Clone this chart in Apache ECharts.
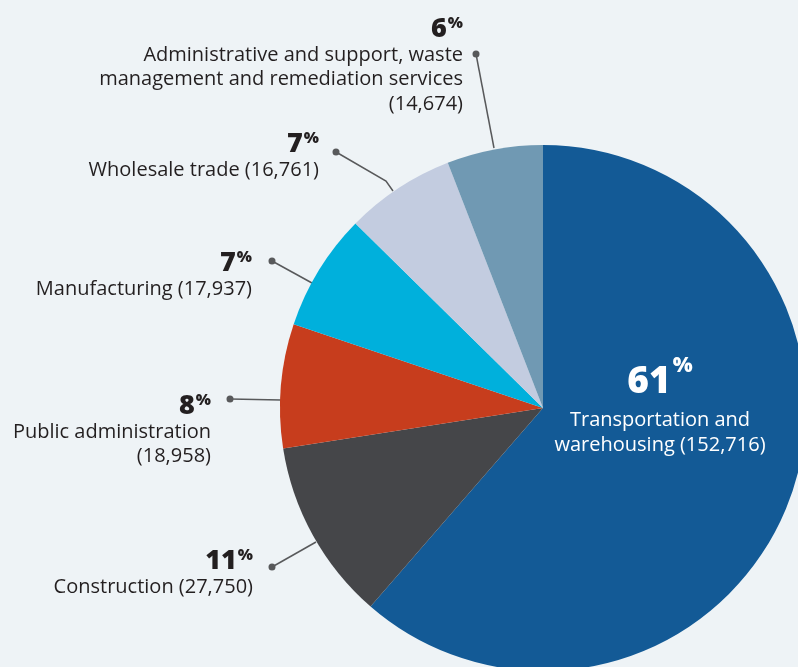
<!DOCTYPE html>
<html>
<head>
<meta charset="utf-8">
<script src="https://cdn.jsdelivr.net/npm/echarts@6/dist/echarts.min.js"></script>
<style>
  html, body { margin: 0; padding: 0; background: #eef3f6; }
  #main { width: 798px; height: 667px; }
</style>
</head>
<body>
<div id="main"></div>
<script>
const sectors = ['Transportation and warehousing', 'Construction', 'Public administration',
  'Manufacturing', 'Wholesale trade', 'Administrative and support, waste management and remediation services'];
const workers = [152716, 27750, 18958, 17937, 16761, 14674];
const percents = [61, 11, 8, 7, 7, 6];
// label text lines as drawn in the picture
const labelLines = [
  ['Transportation and', 'warehousing (152,716)'],
  ['Construction (27,750)'],
  ['Public administration', '(18,958)'],
  ['Manufacturing (17,937)'],
  ['Wholesale trade (16,761)'],
  ['Administrative and support, waste', 'management and remediation services', '(14,674)']
];
const colors = ['#135a96', '#454649', '#c73d1d', '#00b0dc', '#c3cce0', '#7099b3'];

// where the callout labels sit, and their leader lines (dot end first)
const layout = [
  { x: 660, y: 356, align: 'center' },
  { x: 253, y: 547, align: 'right', line: [[272, 567], [316, 542]] },
  { x: 211, y: 392, align: 'right', line: [[230, 399], [281, 400]] },
  { x: 252, y: 249, align: 'right', line: [[272, 261], [312, 283]] },
  { x: 319, y: 130, align: 'right', line: [[336, 152], [386, 181], [393, 191]] },
  { x: 463, y: 15, align: 'right', line: [[476, 54], [494, 148]] }
];

const FONT = 'Open Sans';
const chart = echarts.init(document.getElementById('main'));

const data = sectors.map((name, i) => ({
  name: name,
  value: workers[i],
  itemStyle: { color: colors[i] },
  label: i === 0 ? {
    position: 'inside',
    rich: {
      num: { fontSize: 37, fontWeight: 800, color: '#fff', fontFamily: FONT, lineHeight: 52 },
      pct: { fontSize: 21, fontWeight: 800, color: '#fff', fontFamily: FONT, verticalAlign: 'top', padding: [0, 0, 18, 2] },
      txt: { fontSize: 20, color: '#fff', fontFamily: FONT, lineHeight: 25 }
    }
  } : undefined,
  labelLine: { show: i !== 0 }
}));

chart.setOption({
  backgroundColor: '#eef3f6',
  animation: false,
  series: [{
    type: 'pie',
    center: [543, 408],
    radius: 263,
    startAngle: 90,
    clockwise: true,
    data: data,
    itemStyle: { borderWidth: 0 },
    emphasis: { disabled: true },
    label: {
      show: true,
      position: 'outside',
      formatter: function (p) {
        const i = p.dataIndex;
        return '{num|' + percents[i] + '}{pct|%}\n' + labelLines[i].map(t => '{txt|' + t + '}').join('\n');
      },
      rich: {
        num: { fontSize: 27, fontWeight: 800, color: '#231f20', fontFamily: FONT, lineHeight: 28 },
        pct: { fontSize: 16, fontWeight: 800, color: '#231f20', fontFamily: FONT, verticalAlign: 'top', padding: [0, 0, 10, 1] },
        txt: { fontSize: 20, color: '#231f20', fontFamily: FONT, lineHeight: 24.5 }
      }
    },
    labelLine: {
      show: true,
      lineStyle: { color: '#58595b', width: 1.5 }
    },
    labelLayout: function (p) {
      const l = layout[p.dataIndex];
      const out = { x: l.x, y: l.y, align: l.align, verticalAlign: 'top', hideOverlap: false };
      if (l.line) out.labelLinePoints = l.line.slice().reverse();
      return out;
    }
  }],
  graphic: layout.filter(l => l.line).map(l => ({
    type: 'circle',
    shape: { cx: l.line[0][0], cy: l.line[0][1], r: 3.5 },
    style: { fill: '#58595b' },
    z: 100
  }))
});
</script>
</body>
</html>
